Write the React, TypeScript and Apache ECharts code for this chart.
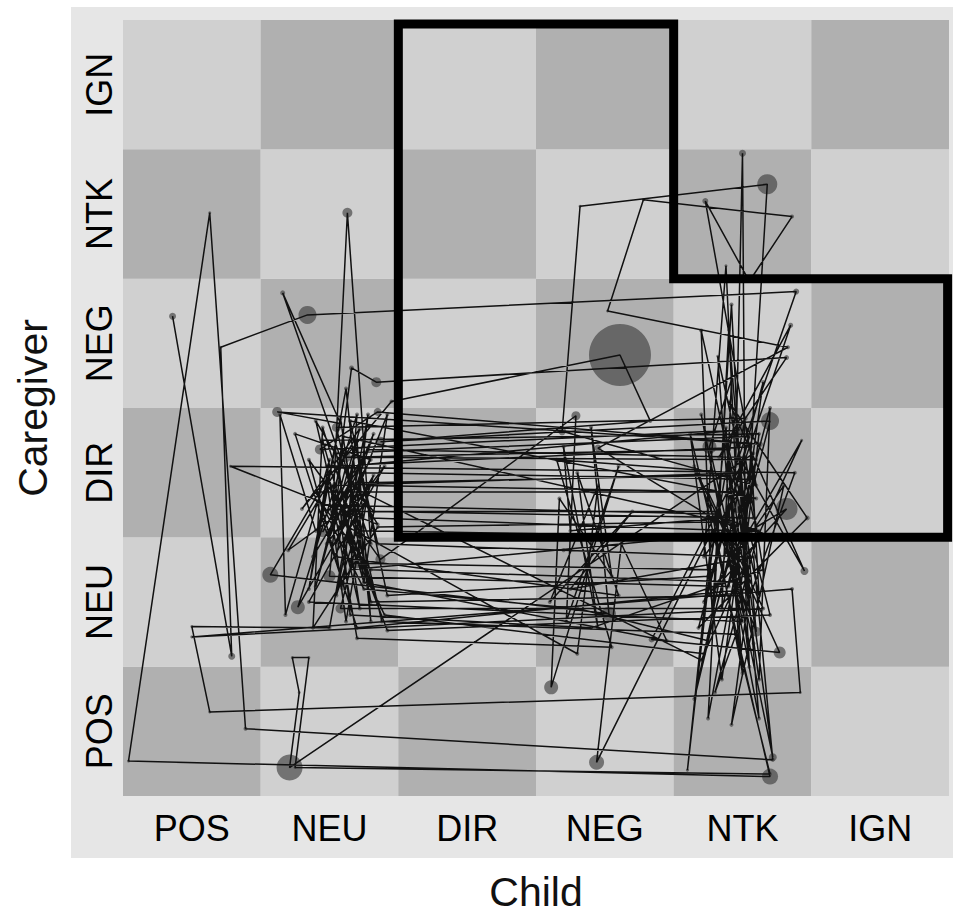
import React, { useEffect, useRef } from "react";
import * as echarts from "echarts";

// State categories (child on x, caregiver on y), bottom/left to top/right
const childStates = ["POS", "NEU", "DIR", "NEG", "NTK", "IGN"];
const caregiverStates = ["POS", "NEU", "DIR", "NEG", "NTK", "IGN"];

// Region of interest outline (cell units)
const regionOutline: [number, number][] = [
  [2, 5.97], [4, 5.97], [4, 4], [5.99, 4], [5.99, 2], [2, 2], [2, 5.97],
];

// Trajectory: [child position, caregiver position, dot size (duration)]
const trajectory: [number, number, number][] = [
  [0.36, 3.71, 7], [0.79, 1.08, 7], [0.71, 3.47, 3], [1.34, 3.72, 18], [4.89, 3.90, 6],
  [4.45, 2.55, 4], [4.50, 4.97, 7], [4.52, 1.95, 4], [4.68, 4.73, 20], [3.32, 4.56, 3],
  [3.19, 2.82, 8], [4.60, 2.40, 4], [4.23, 4.60, 6], [4.55, 3.98, 3], [4.86, 4.48, 4],
  [3.78, 4.61, 3], [3.52, 3.75, 3], [4.83, 3.47, 4], [3.45, 2.69, 7], [4.36, 2.10, 4],
  [4.85, 3.64, 5], [4.33, 2.62, 4], [4.82, 3.39, 5], [1.84, 3.20, 10], [1.66, 3.31, 5],
  [1.52, 2.15, 5], [1.63, 4.51, 10], [1.80, 1.95, 4], [1.16, 3.89, 5], [1.58, 2.88, 4],
  [1.12, 2.97, 10], [4.63, 2.72, 5], [1.85, 2.97, 8], [1.43, 2.68, 10], [4.48, 2.83, 12],
  [1.62, 2.55, 4], [1.40, 1.62, 4], [1.72, 2.84, 5], [1.30, 2.22, 4], [1.95, 3.05, 4],
  [3.61, 3.41, 62], [3.83, 2.90, 4], [1.87, 2.74, 10], [4.70, 2.90, 18], [4.35, 1.45, 4],
  [4.42, 3.22, 4], [4.26, 2.70, 14], [4.58, 1.18, 4], [4.47, 2.24, 14], [4.72, 0.30, 8],
  [4.40, 1.95, 4], [4.82, 2.22, 22], [4.30, 1.60, 4], [4.93, 2.75, 3], [4.20, 1.05, 4],
  [1.65, 2.40, 4], [1.45, 2.04, 10], [1.75, 2.62, 4], [1.55, 1.55, 4], [1.82, 2.48, 4],
  [1.27, 1.46, 14], [1.70, 2.95, 4], [1.60, 1.62, 8], [1.35, 2.60, 4], [1.87, 1.83, 10],
  [3.29, 2.94, 9], [3.22, 1.35, 4], [3.60, 2.55, 4], [3.11, 0.84, 14], [3.17, 2.30, 4],
  [3.55, 1.70, 4], [3.40, 2.85, 4], [3.53, 1.41, 14], [1.07, 1.71, 16], [1.48, 2.45, 4],
  [1.62, 1.35, 4], [1.78, 2.35, 4], [1.20, 1.90, 4], [1.68, 2.75, 4], [1.92, 1.55, 4],
  [4.25, 1.70, 4], [4.45, 2.95, 4], [4.60, 1.27, 10], [4.15, 2.55, 4], [4.77, 1.11, 12],
  [3.84, 1.21, 6], [4.50, 2.58, 4], [4.95, 1.74, 8], [4.40, 3.05, 4], [4.97, 2.15, 5],
  [4.18, 1.30, 4], [4.55, 2.78, 4], [1.55, 2.65, 4], [1.72, 1.45, 4], [1.40, 2.90, 4],
  [1.85, 2.10, 4], [0.78, 2.55, 3], [4.88, 2.50, 4], [4.30, 0.80, 4], [4.62, 2.05, 4],
  [1.65, 1.75, 4], [1.78, 2.95, 4], [1.50, 1.30, 4], [0.50, 1.31, 3], [0.63, 0.65, 3],
  [4.92, 0.80, 3], [4.86, 1.60, 4], [0.50, 1.23, 3], [4.65, 1.45, 4], [4.25, 2.35, 4],
  [4.50, 0.95, 4], [4.38, 2.85, 4], [4.10, 0.20, 3], [4.28, 2.05, 4], [3.44, 0.26, 15],
  [3.62, 1.95, 4], [3.95, 1.20, 4], [1.75, 1.65, 4], [1.58, 2.92, 4], [1.38, 1.85, 4],
  [1.80, 2.60, 4], [1.25, 2.80, 4], [1.70, 1.30, 4], [4.55, 1.60, 4], [4.42, 0.55, 4],
  [4.80, 2.40, 4], [4.22, 1.50, 4], [4.65, 3.20, 4], [4.35, 0.90, 4], [4.12, 2.80, 4],
  [4.70, 0.15, 16], [0.04, 0.27, 3], [0.63, 4.51, 3], [0.89, 0.52, 4], [4.72, 0.28, 4],
  [4.58, 1.85, 4], [3.25, 1.60, 4], [3.70, 2.20, 4], [3.10, 1.50, 4], [3.45, 2.40, 4],
  [3.30, 1.10, 4], [1.60, 2.10, 4], [1.82, 2.80, 4], [1.48, 1.95, 4], [1.90, 2.55, 4],
  [1.35, 1.50, 4], [4.50, 1.35, 4], [4.20, 2.95, 4], [4.62, 0.60, 4], [4.48, 2.40, 4],
  [4.15, 0.75, 4], [4.58, 2.65, 4], [1.21, 0.22, 26], [1.28, 0.80, 3], [1.23, 1.07, 3],
  [1.35, 1.07, 3], [1.25, 0.22, 3], [4.70, 0.17, 4], [4.45, 1.25, 4], [1.88, 1.35, 4],
  [1.55, 2.85, 9], [4.52, 2.92, 5], [4.30, 1.75, 4], [1.70, 1.80, 10], [1.45, 2.75, 4],
  [4.62, 2.80, 4], [4.48, 1.55, 4], [1.80, 1.50, 4], [1.62, 2.62, 10], [4.40, 2.68, 4],
  [4.70, 1.40, 4], [1.92, 1.28, 4], [1.52, 2.40, 4], [4.55, 2.50, 5], [4.25, 1.20, 4],
  [3.30, 1.45, 4], [1.75, 1.60, 4], [1.40, 2.35, 4], [4.46, 2.35, 4], [4.60, 2.30, 4],
  [1.65, 2.90, 4], [1.85, 1.95, 4], [3.20, 1.90, 4], [4.50, 1.85, 4], [4.35, 2.12, 4],
  [1.60, 2.78, 4], [1.50, 1.70, 12], [4.40, 1.62, 4], [4.58, 2.45, 4], [1.72, 2.50, 4],
  [1.80, 2.15, 4], [4.45, 2.05, 4], [4.30, 2.20, 4], [1.58, 2.20, 4], [1.65, 1.40, 4],
  [3.40, 1.30, 4], [4.65, 1.75, 4], [4.52, 2.62, 4], [1.78, 2.68, 4], [1.40, 2.05, 4],
  [1.14, 2.95, 4], [1.18, 1.40, 4], [1.50, 2.60, 4], [1.35, 1.60, 4], [1.62, 3.15, 4],
  [1.80, 1.35, 4], [1.70, 2.75, 4], [1.55, 1.95, 4], [1.92, 2.95, 4], [1.75, 1.65, 4],
  [1.60, 2.20, 4], [1.85, 1.50, 4], [1.45, 2.85, 4], [1.38, 1.30, 4], [1.85, 2.08, 4],
  [4.40, 2.12, 4], [4.22, 1.85, 4], [4.38, 4.10, 3], [4.45, 2.50, 4], [3.15, 2.60, 4],
  [3.55, 1.15, 4], [1.70, 1.22, 4], [1.48, 2.55, 4], [4.56, 2.70, 4], [4.62, 1.55, 4],
  [4.20, 3.60, 4], [4.28, 1.40, 4], [4.42, 3.80, 4], [4.55, 1.00, 4], [4.38, 2.75, 4],
  [4.62, 0.90, 4], [4.70, 3.00, 4], [4.22, 1.10, 4], [1.90, 1.40, 4], [1.62, 2.00, 4],
  [1.78, 2.40, 4], [4.48, 2.35, 4], [4.35, 2.15, 4], [3.25, 2.05, 4], [3.20, 2.70, 4],
  [3.45, 1.30, 4], [3.30, 2.50, 4], [3.60, 1.55, 4], [1.55, 1.85, 4], [1.68, 2.62, 4],
  [4.60, 2.60, 4], [4.25, 0.60, 4], [4.40, 3.60, 3], [4.55, 1.65, 4], [1.80, 1.75, 4],
  [1.45, 2.25, 4], [4.30, 2.18, 4], [4.72, 2.00, 4], [1.72, 2.05, 9], [1.58, 1.45, 10],
  [4.50, 1.45, 4], [4.40, 2.48, 4], [1.66, 2.42, 4], [1.82, 2.20, 4], [4.58, 2.15, 4],
  [4.32, 3.40, 3], [4.48, 1.10, 4],
];

const LIGHT = "#d0d0d0";
const DARK = "#b0b0b0";

export default function App() {
  const ref = useRef<HTMLDivElement>(null);

  useEffect(() => {
    document.body.style.margin = "0";
    if (!ref.current) return;
    const chart = echarts.init(ref.current, undefined, { renderer: "svg" });

    const cells: number[][] = [];
    for (let c = 0; c < childStates.length; c++) {
      for (let r = 0; r < caregiverStates.length; r++) {
        cells.push([c, r, (c + r) % 2 === 0 ? 1 : 0]);
      }
    }

    const fmt = (names: string[]) => (v: number) => {
      const i = Math.floor(v);
      if (Math.abs(v - i - 0.5) < 1e-6 && i >= 0 && i < names.length) return names[i];
      return "";
    };

    const font = "'Liberation Sans', Arial, sans-serif";

    chart.setOption({
      animation: false,
      graphic: [
        {
          type: "rect",
          z: -10,
          shape: { x: 71, y: 7, width: 882, height: 851 },
          style: { fill: "#e6e6e6" },
        },
      ],
      grid: { left: 123, top: 20, width: 826, height: 777, containLabel: false },
      xAxis: {
        type: "value",
        min: 0,
        max: 6,
        interval: 0.5,
        axisLine: { show: false },
        axisTick: { show: false },
        splitLine: { show: false },
        axisLabel: {
          formatter: fmt(childStates),
          fontSize: 36,
          fontFamily: font,
          color: "#000",
          margin: 14,
        },
        name: "Child",
        nameLocation: "middle",
        nameGap: 75,
        nameTextStyle: { fontSize: 41, fontFamily: font, color: "#111" },
      },
      yAxis: {
        type: "value",
        min: 0,
        max: 6,
        interval: 0.5,
        axisLine: { show: false },
        axisTick: { show: false },
        splitLine: { show: false },
        axisLabel: {
          formatter: fmt(caregiverStates),
          fontSize: 36,
          fontFamily: font,
          color: "#000",
          rotate: 90,
          margin: 6,
        },
        name: "Caregiver",
        nameLocation: "middle",
        nameGap: 70,
        nameRotate: 90,
        nameTextStyle: { fontSize: 41, fontFamily: font, color: "#111" },
      },
      series: [
        {
          type: "custom",
          z: 1,
          silent: true,
          data: cells,
          encode: { x: 0, y: 1 },
          renderItem: (params: any, api: any) => {
            const c = api.value(0);
            const r = api.value(1);
            const p0 = api.coord([c, r + 1]);
            const p1 = api.coord([c + 1, r]);
            return {
              type: "rect",
              shape: { x: p0[0], y: p0[1], width: p1[0] - p0[0], height: p1[1] - p0[1] },
              style: { fill: api.value(2) ? DARK : LIGHT },
            };
          },
        },
        {
          type: "scatter",
          z: 2,
          silent: true,
          data: trajectory,
          symbol: "circle",
          symbolSize: (v: number[]) => v[2],
          itemStyle: { color: "rgba(64,64,64,0.82)" },
        },
        {
          type: "line",
          z: 3,
          silent: true,
          data: trajectory.map((d) => [d[0], d[1]]),
          showSymbol: false,
          symbol: "none",
          lineStyle: { color: "#111", width: 1.5 },
        },
        {
          type: "line",
          z: 4,
          silent: true,
          clip: false,
          data: regionOutline,
          showSymbol: false,
          symbol: "none",
          lineStyle: { color: "#000", width: 9, join: "miter", cap: "square" },
        },
      ],
    });

    return () => chart.dispose();
  }, []);

  return <div ref={ref} style={{ width: 953, height: 917 }} />;
}
